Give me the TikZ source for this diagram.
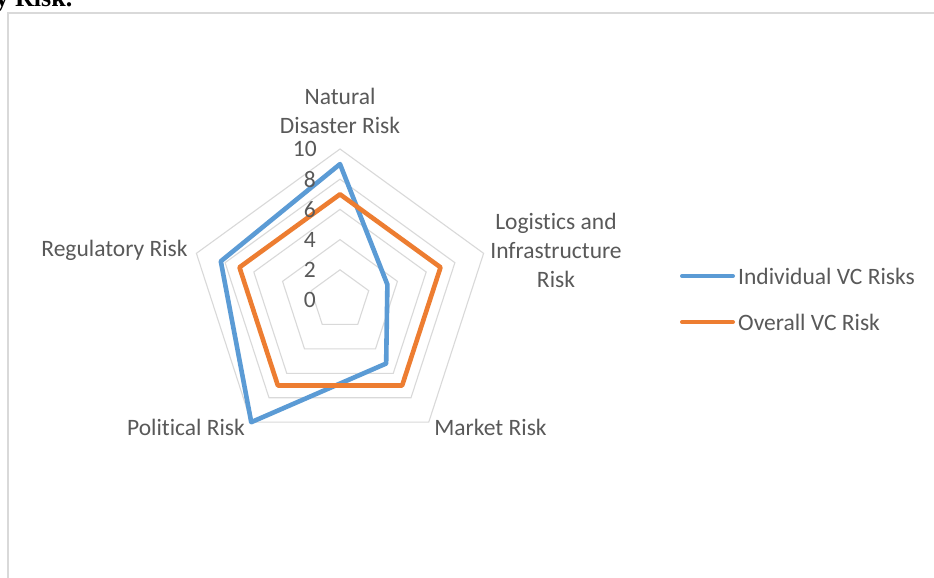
\documentclass[tikz,border=0pt]{standalone}
\usepackage{fontspec}
\setmainfont{Carlito}[Ligatures=NoCommon]
\newfontfamily\capserif{Liberation Serif}
\definecolor{txt}{HTML}{595959}
\definecolor{gridc}{HTML}{D9D9D9}
\definecolor{serA}{HTML}{5B9BD5}
\definecolor{serB}{HTML}{ED7D31}
\begin{document}
\begin{tikzpicture}[x=1pt,y=-1pt,
  lbl/.style={text=txt,font=\fontsize{23.5}{29}\selectfont,inner sep=0pt,align=center},
  tick/.style={text=txt,font=\fontsize{23.5}{29}\selectfont,inner sep=0pt,anchor=east},
  ring/.style={draw=gridc,line width=1.1},
  seriesline/.style={line width=4.6,line join=round,line cap=round}]
\useasboundingbox (0,0) rectangle (934,578);
\fill[white] (0,0) rectangle (934,578);
\begin{scope}
\clip (0,0) rectangle (934,578);
\node[anchor=base west,inner sep=0pt,font=\capserif\bfseries\fontsize{26}{30}\selectfont] (cap) at (-4.5,6.5) {y Risk.};
\draw[gridc,line width=2] (8.3,590) -- (8.3,13.3) -- (950,13.3);
\end{scope}
% radar grid and series
\begin{scope}[shift={(340,300)}]
\coordinate (ctr) at (0,0);
\foreach \v in {2,4,6,8,10}{
  \draw[ring] (-90:\v*15.1) -- (-18:\v*15.1) -- (54:\v*15.1) -- (126:\v*15.1) -- (198:\v*15.1) -- cycle;
}
\draw[seriesline,serA] (-90:9*15.1) -- (-18:3.3*15.1) -- (54:5.2*15.1) -- (126:10*15.1) -- (198:8.3*15.1) -- cycle;
\draw[seriesline,serB] (-90:7*15.1) -- (-18:7*15.1) -- (54:7*15.1) -- (126:7*15.1) -- (198:7*15.1) -- cycle;
\end{scope}
% tick labels
\node[tick] (t0) at (316,300) {0};
\node[tick] (t2) at (316,270) {2};
\node[tick] (t4) at (316,240) {4};
\node[tick] (t6) at (316,210) {6};
\node[tick] (t8) at (316,180) {8};
\node[tick] (t10) at (317,149) {10};
% category labels
\node[lbl] (nat) at (340,110.5) {Natural\\Disaster Risk};
\node[lbl] (logi) at (556,250) {Logistics and\\Infrastructure\\Risk};
\node[lbl] (mkt) at (490.5,427) {Market Risk};
\node[lbl] (pol) at (186,427) {Political Risk};
\node[lbl] (reg) at (114.5,250) {Regulatory Risk};
% legend
\coordinate (la1) at (682,276);
\coordinate (lb1) at (733,276);
\coordinate (la2) at (682,322);
\coordinate (lb2) at (733,322);
\draw[serA,line width=4,line cap=round] (la1) -- (lb1);
\draw[serB,line width=4,line cap=round] (la2) -- (lb2);
\node[lbl,anchor=west] (leg1) at (738,276) {Individual VC Risks};
\node[lbl,anchor=west] (leg2) at (738,322) {Overall VC Risk};
\end{tikzpicture}
\end{document}
